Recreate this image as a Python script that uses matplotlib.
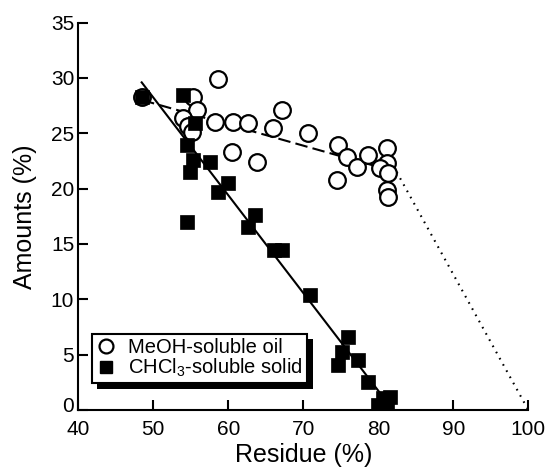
import numpy as np
import matplotlib
matplotlib.use("Agg")
import matplotlib.pyplot as plt
import matplotlib.patheffects as pe
import matplotlib.transforms as mtrans
from matplotlib.lines import Line2D

plt.rcParams["font.family"] = ["Liberation Sans", "DejaVu Sans"]
plt.rcParams["mathtext.fontset"] = "custom"
plt.rcParams["mathtext.rm"] = "Liberation Sans"

# MeOH-soluble oil (open circles)
oil_x = [48.45, 58.67, 55.33, 55.79, 54.0, 54.6, 55.12, 58.23, 60.67, 62.67,
         66.0, 67.12, 70.67, 60.45, 63.79, 74.67, 75.79, 77.12, 78.67, 81.12,
         81.12, 80.23, 81.33, 81.12, 81.33, 74.45]
oil_y = [28.3, 29.9, 28.3, 27.1, 26.35, 25.7, 25.14, 26.04, 26.04, 25.9,
         25.45, 27.1, 25.0, 23.33, 22.43, 23.94, 22.88, 21.98, 23.04, 23.64,
         22.29, 21.83, 21.38, 19.87, 19.27, 20.78]

# CHCl3-soluble solid (filled squares)
solid_x = [48.45, 54.0, 55.56, 54.45, 55.33, 57.56, 54.9, 60.0, 58.67, 54.45,
           63.56, 62.67, 66.1, 67.16, 70.9, 76.0, 75.12, 74.67, 77.33, 78.67,
           80.67, 81.56, 80.0, 81.12]
solid_y = [28.3, 28.46, 25.9, 23.94, 22.58, 22.43, 21.53, 20.48, 19.72, 17.0,
           17.6, 16.56, 14.45, 14.45, 10.4, 6.62, 5.27, 4.07, 4.5, 2.56,
           1.06, 1.2, 0.45, 0.3]

# trend lines (end points)
oil_fit_x = [48.5, 82.45]
oil_fit_y = [28.0, 21.5]
oil_ext_x = [82.45, 100.0]
oil_ext_y = [21.5, 0.0]
solid_fit_x = [48.45, 81.12]
solid_fit_y = [29.6, 0.75]

xticks = [40, 50, 60, 70, 80, 90, 100]
yticks = [0, 5, 10, 15, 20, 25, 30, 35]

fig = plt.figure(figsize=(5.45, 4.75), dpi=100)
ax = fig.add_axes([0.1437, 0.1368, 0.8257, 0.8156])

ax.plot(oil_fit_x, oil_fit_y, color="black", lw=1.5, ls=(0, (6, 2.5)), zorder=2)
ax.plot(oil_ext_x, oil_ext_y, color="black", lw=1.5, ls=(0, (0.8, 2.6)),
        zorder=2)
ax.plot(solid_fit_x, solid_fit_y, color="black", lw=1.5, zorder=2)

ax.plot(oil_x, oil_y, ls="none", marker="o", ms=12, mfc="white",
        mec="black", mew=1.6, zorder=3)
ax.plot(solid_x, solid_y, ls="none", marker="s", ms=10.5, mfc="black",
        mec="black", mew=0.5, zorder=4)

ax.set_xlim(40, 100)
ax.set_ylim(0, 35)
ax.set_xticks(xticks)
ax.set_yticks(yticks)
tick_font = {"size": 15}
ax.set_xticklabels([str(t) for t in xticks], fontdict=tick_font)
ax.set_yticklabels([str(t) for t in yticks], fontdict=tick_font)
ax.tick_params(direction="in", length=7, width=1.5)
ax.tick_params(axis="x", pad=7)
ax.tick_params(axis="y", pad=3)
for s in ["top", "right"]:
    ax.spines[s].set_visible(False)
for s in ["left", "bottom"]:
    ax.spines[s].set_linewidth(1.5)

# lift the "0" label a little so it clears the "40" below it
zero = ax.get_yticklabels()[0]
zero.set_transform(zero.get_transform() +
                   mtrans.ScaledTranslation(0, 4 / 72, fig.dpi_scale_trans))

ax.set_xlabel("Residue (%)", fontsize=18, labelpad=3)
ax.set_ylabel("Amounts (%)", fontsize=18, labelpad=10)

handles = [
    Line2D([], [], ls="none", marker="o", ms=10, mfc="white", mec="black",
           mew=1.6),
    Line2D([], [], ls="none", marker="s", ms=9, mfc="black", mec="black"),
]
labels = ["MeOH-soluble oil", r"CHCl$_\mathregular{3}$-soluble solid"]
leg = ax.legend(handles, labels, loc="lower left",
                bbox_to_anchor=(0.03, 0.069), fontsize=14.5, frameon=True,
                fancybox=False, edgecolor="black", framealpha=1,
                borderpad=0.2, labelspacing=0.0, handlelength=1.0,
                handletextpad=0.6, borderaxespad=0)
frame = leg.get_frame()
frame.set_linewidth(1.5)
frame.set_path_effects([
    pe.SimplePatchShadow(offset=(4, -4), shadow_rgbFace="black", alpha=1),
    pe.Normal(),
])

fig.savefig("out.png", dpi=100)
